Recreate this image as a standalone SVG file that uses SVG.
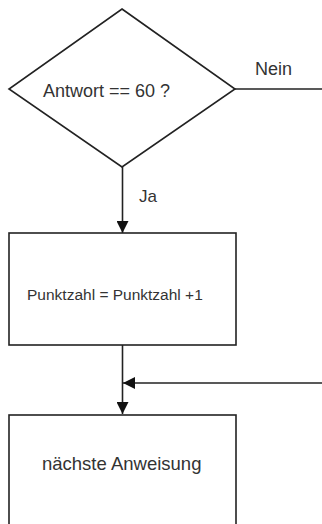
<svg xmlns="http://www.w3.org/2000/svg" width="322" height="524" viewBox="0 0 322 524">
<style>
.shape{fill:#fff;stroke:#222;stroke-width:1.6}
.line{fill:none;stroke:#222;stroke-width:1.6}
.t{font-family:"Liberation Sans",Arial,sans-serif;fill:#333}
</style>
<defs>
<marker id="ah" viewBox="0 0 12 12" refX="12" refY="6" markerWidth="12" markerHeight="12" markerUnits="userSpaceOnUse" orient="auto">
<path d="M0,0 L12,6 L0,12 Z" fill="#111"/>
</marker>
</defs>
<rect width="322" height="524" fill="#fff"/>
<g id="connectors">
<line class="line" x1="235" y1="89" x2="322" y2="89"/>
<line class="line" x1="122.5" y1="167" x2="122.5" y2="233" marker-end="url(#ah)"/>
<line class="line" x1="122.5" y1="345" x2="122.5" y2="414" marker-end="url(#ah)"/>
<line class="line" x1="322" y1="383" x2="123" y2="383" marker-end="url(#ah)"/>
<text class="t" x="255" y="75" font-size="18">Nein</text>
<text class="t" x="139" y="202" font-size="17">Ja</text>
</g>
<g id="decision">
<polygon class="shape" points="122,9 235,89 122,167 9,89"/>
<text class="t" x="43" y="97" font-size="18">Antwort == 60 ?</text>
</g>
<g id="punktzahl">
<rect class="shape" x="9" y="233" width="227" height="112"/>
<text class="t" x="27" y="300" font-size="15.5">Punktzahl = Punktzahl +1</text>
</g>
<g id="naechste">
<rect class="shape" x="9" y="415" width="227" height="120"/>
<text class="t" x="42" y="470" font-size="18.5">nächste Anweisung</text>
</g>
</svg>
